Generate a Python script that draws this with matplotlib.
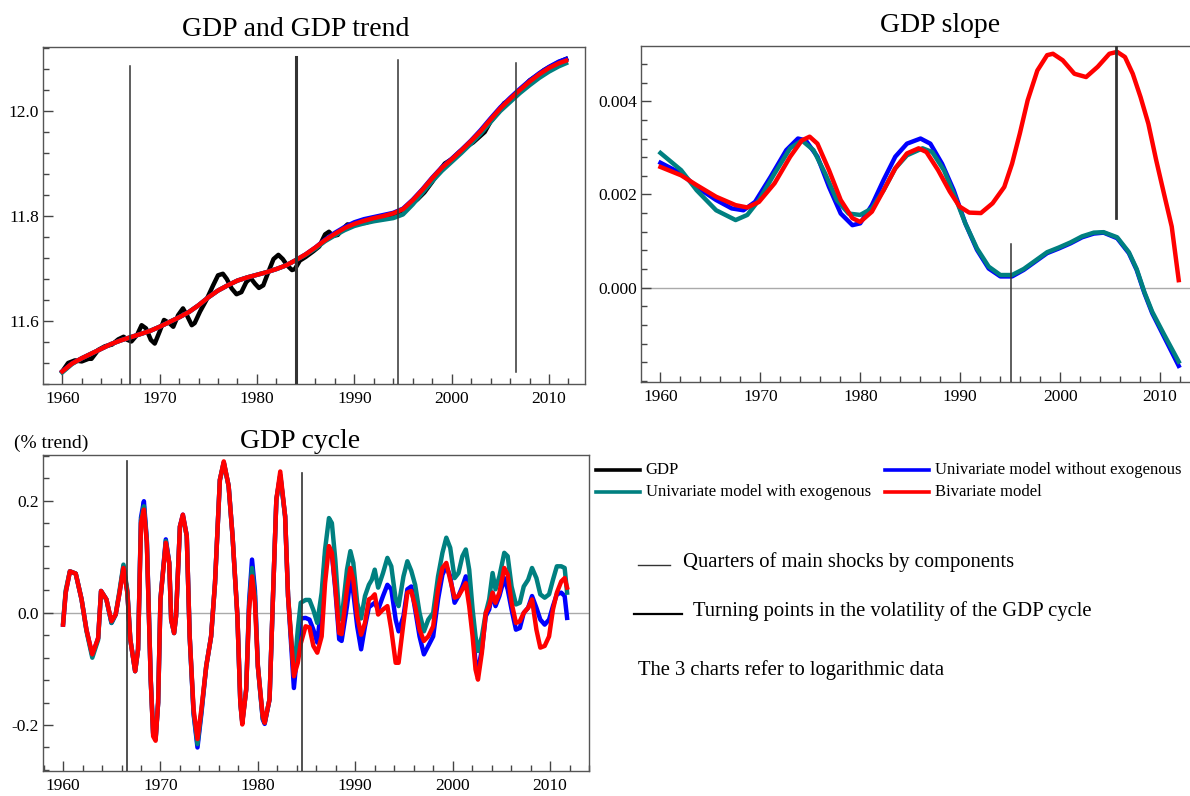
import matplotlib
matplotlib.use('Agg')
import matplotlib.pyplot as plt
from matplotlib.lines import Line2D
from matplotlib.ticker import MultipleLocator, FixedLocator, FormatStrFormatter

plt.rcParams['font.family'] = ['Liberation Serif', 'DejaVu Serif']
plt.rcParams['axes.unicode_minus'] = False

# ---------------- data ----------------
# GDP and GDP trend (log level)
trend_years = [1960, 1961, 1962, 1963, 1964, 1965, 1966, 1967, 1968, 1969,
               1970, 1971, 1972, 1973, 1974, 1975, 1976, 1977, 1978, 1979,
               1980, 1981, 1982, 1983, 1984, 1985, 1986, 1987, 1988, 1989,
               1990, 1991, 1992, 1993, 1994, 1995, 1996, 1997, 1998, 1999,
               2000, 2001, 2002, 2003, 2004, 2005, 2006, 2007, 2008, 2009,
               2010, 2011, 2011.75]
trend_biv = [11.504, 11.519, 11.529, 11.538, 11.547, 11.556, 11.563, 11.569, 11.575, 11.581,
             11.589, 11.598, 11.607, 11.617, 11.630, 11.645, 11.658, 11.668, 11.677, 11.683,
             11.688, 11.693, 11.699, 11.706, 11.716, 11.727, 11.740, 11.754, 11.766, 11.777,
             11.785, 11.791, 11.796, 11.800, 11.805, 11.813, 11.830, 11.850, 11.872, 11.892,
             11.908, 11.925, 11.943, 11.962, 11.984, 12.005, 12.023, 12.040, 12.056, 12.070,
             12.082, 12.091, 12.096]
trend_uni = [11.504, 11.519, 11.529, 11.538, 11.547, 11.556, 11.563, 11.569, 11.575, 11.581,
             11.589, 11.598, 11.607, 11.617, 11.630, 11.645, 11.658, 11.668, 11.677, 11.683,
             11.688, 11.693, 11.699, 11.706, 11.716, 11.727, 11.740, 11.755, 11.768, 11.779,
             11.788, 11.794, 11.798, 11.802, 11.806, 11.814, 11.831, 11.851, 11.873, 11.893,
             11.909, 11.926, 11.944, 11.964, 11.986, 12.007, 12.025, 12.042, 12.058, 12.072,
             12.084, 12.094, 12.099]
trend_uni_exo = [11.502, 11.518, 11.529, 11.538, 11.547, 11.556, 11.563, 11.569, 11.575, 11.581,
                 11.589, 11.598, 11.607, 11.617, 11.630, 11.645, 11.658, 11.668, 11.677, 11.683,
                 11.688, 11.693, 11.699, 11.706, 11.716, 11.726, 11.738, 11.752, 11.763, 11.773,
                 11.781, 11.786, 11.790, 11.793, 11.796, 11.803, 11.822, 11.844, 11.866, 11.886,
                 11.903, 11.920, 11.938, 11.957, 11.979, 12.000, 12.017, 12.034, 12.049, 12.063,
                 12.075, 12.085, 12.091]

gdp_years = [1960.0, 1960.6, 1961.3, 1962.0, 1962.7, 1963.0, 1963.7, 1964.4, 1965.1, 1965.75,
             1966.3, 1966.7, 1967.1, 1967.7, 1968.15, 1968.6, 1969.1, 1969.5, 1970.0, 1970.45,
             1971.0, 1971.4, 1971.9, 1972.4, 1972.8, 1973.3, 1973.6, 1974.15, 1974.8, 1975.5,
             1976.0, 1976.5, 1976.9, 1977.4, 1977.9, 1978.4, 1978.9, 1979.35, 1979.8, 1980.2,
             1980.65, 1981.1, 1981.7, 1982.2, 1982.65, 1983.1, 1983.6, 1983.9, 1984.4, 1985.0,
             1985.8, 1986.4, 1987.0, 1987.4, 1987.8, 1988.3, 1988.8, 1989.3, 1989.8, 1990.5,
             1991.2, 1991.8, 1992.3, 1993.0, 1993.5, 1994.3, 1995.0, 1995.8, 1996.5, 1997.2,
             1998.0, 1998.7, 1999.3, 2000.0, 2000.8, 2001.5, 2002.2, 2002.8, 2003.4, 2004.0,
             2004.8, 2005.4, 2006.0, 2006.6, 2007.4, 2008.0, 2008.8, 2009.5, 2010.2, 2011.0,
             2011.75]
gdp = [11.504, 11.520, 11.525, 11.523, 11.528, 11.528, 11.545, 11.552, 11.555, 11.565,
       11.570, 11.564, 11.561, 11.574, 11.592, 11.586, 11.564, 11.557, 11.580, 11.602,
       11.596, 11.589, 11.611, 11.624, 11.611, 11.592, 11.596, 11.618, 11.640, 11.668,
       11.687, 11.690, 11.680, 11.662, 11.651, 11.655, 11.674, 11.682, 11.671, 11.663,
       11.668, 11.690, 11.718, 11.726, 11.718, 11.706, 11.697, 11.699, 11.715, 11.722,
       11.733, 11.742, 11.765, 11.770, 11.762, 11.764, 11.775, 11.784, 11.782, 11.786,
       11.787, 11.792, 11.797, 11.796, 11.802, 11.803, 11.808, 11.822, 11.832, 11.845,
       11.865, 11.885, 11.900, 11.908, 11.922, 11.932, 11.940, 11.950, 11.960, 11.980,
       11.998, 12.015, 12.020, 12.031, 12.045, 12.058, 12.068, 12.078, 12.085, 12.093,
       12.099]

# GDP slope
slope_biv_years = [1960.0, 1962.07, 1963.62, 1965.57, 1967.52, 1968.69, 1969.86, 1971.42, 1972.98, 1974.15,
                   1974.93, 1975.71, 1976.87, 1978.04, 1979.21, 1979.99, 1981.16, 1982.33, 1983.5, 1984.67,
                   1985.84, 1986.62, 1987.79, 1988.96, 1989.93, 1990.9, 1992.07, 1993.24, 1994.41, 1995.19,
                   1995.97, 1996.75, 1997.72, 1998.7, 1999.28, 2000.26, 2001.43, 2002.6, 2003.76, 2004.93,
                   2005.71, 2006.49, 2007.27, 2008.05, 2008.83, 2009.61, 2010.39, 2011.17, 2011.87]
slope_biv = [0.00259, 0.00241, 0.00220, 0.00195, 0.00177, 0.00172, 0.00184, 0.00224, 0.00281, 0.00316,
             0.00324, 0.00309, 0.00252, 0.00188, 0.00149, 0.00141, 0.00163, 0.00209, 0.00256, 0.00288,
             0.00299, 0.00291, 0.00252, 0.00206, 0.00174, 0.00161, 0.00160, 0.00181, 0.00216, 0.00266,
             0.00331, 0.00402, 0.00466, 0.00499, 0.00502, 0.00488, 0.00459, 0.00452, 0.00474, 0.00502,
             0.00506, 0.00495, 0.00459, 0.00409, 0.00352, 0.00274, 0.00202, 0.00131, 0.00016]

slope_uni_years = [1960.0, 1962.07, 1963.62, 1965.57, 1967.13, 1968.3, 1969.47, 1971.03, 1972.59, 1973.76,
                   1974.54, 1975.71, 1976.87, 1978.04, 1979.21, 1979.99, 1981.16, 1982.33, 1983.5, 1984.67,
                   1986.03, 1987.01, 1988.18, 1989.35, 1990.51, 1991.68, 1992.85, 1994.02, 1995.19, 1996.36,
                   1997.53, 1998.7, 1999.87, 2001.04, 2002.2, 2003.37, 2004.35, 2005.71, 2006.88, 2007.66,
                   2008.44, 2009.22, 2010.39, 2011.87]
slope_uni = [0.00268, 0.00245, 0.00216, 0.00188, 0.00170, 0.00166, 0.00184, 0.00238, 0.00295, 0.00320,
             0.00316, 0.00281, 0.00216, 0.00159, 0.00134, 0.00138, 0.00177, 0.00231, 0.00281, 0.00309,
             0.00320, 0.00309, 0.00266, 0.00209, 0.00138, 0.00081, 0.00041, 0.00024, 0.00024, 0.00038,
             0.00056, 0.00074, 0.00084, 0.00095, 0.00108, 0.00116, 0.00118, 0.00106, 0.00074, 0.00038,
             -0.00012, -0.00055, -0.00105, -0.00168]

slope_exo_years = [1960.0, 1962.07, 1963.62, 1965.57, 1967.52, 1968.69, 1969.86, 1971.42, 1972.98, 1974.15,
                   1975.32, 1976.48, 1977.65, 1978.82, 1979.99, 1981.16, 1982.33, 1983.5, 1984.67, 1986.23,
                   1987.2, 1988.37, 1989.35, 1990.51, 1991.68, 1992.85, 1994.02, 1995.19, 1996.36, 1997.53,
                   1998.7, 1999.87, 2001.04, 2002.2, 2003.37, 2004.35, 2005.71, 2006.88, 2007.66, 2008.44,
                   2009.22, 2010.39, 2011.87]
slope_exo = [0.00289, 0.00252, 0.00209, 0.00166, 0.00145, 0.00156, 0.00188, 0.00245, 0.00299, 0.00316,
             0.00295, 0.00245, 0.00188, 0.00159, 0.00156, 0.00170, 0.00209, 0.00256, 0.00284, 0.00299,
             0.00291, 0.00252, 0.00202, 0.00138, 0.00084, 0.00045, 0.00027, 0.00027, 0.00040, 0.00058,
             0.00076, 0.00086, 0.00097, 0.00110, 0.00118, 0.00119, 0.00108, 0.00076, 0.00040, -0.00010,
             -0.00052, -0.00100, -0.00159]

# GDP cycle (% trend)
cycle_years = [1960.0, 1960.27, 1960.7, 1961.3, 1961.9, 1962.4, 1963.0, 1963.6, 1963.9, 1964.45,
               1964.97, 1965.4, 1965.8, 1966.2, 1966.6, 1966.9, 1967.4, 1967.7, 1968.0, 1968.3,
               1968.6, 1969.0, 1969.25, 1969.5, 1969.76, 1970.0, 1970.55, 1970.9, 1971.1, 1971.4,
               1971.6, 1972.0, 1972.3, 1972.7, 1973.0, 1973.4, 1973.8, 1974.2, 1974.7, 1975.2,
               1975.6, 1976.1, 1976.5, 1977.0, 1977.4, 1977.9, 1978.2, 1978.4, 1978.8, 1979.1,
               1979.4, 1979.7, 1980.0, 1980.5, 1980.7, 1981.2, 1981.6, 1981.9, 1982.3, 1982.8,
               1983.1, 1983.7, 1984.1, 1984.4, 1984.9, 1985.3, 1985.7, 1986.1, 1986.55, 1986.9,
               1987.3, 1987.6, 1987.95, 1988.35, 1988.6, 1989.15, 1989.5, 1989.8, 1990.2, 1990.6,
               1991.0, 1991.4, 1991.7, 1992.0, 1992.35, 1992.85, 1993.3, 1993.7, 1994.15, 1994.45,
               1994.95, 1995.35, 1995.75, 1996.15, 1996.6, 1997.05, 1997.5, 1998.0, 1998.5, 1998.95,
               1999.35, 1999.75, 2000.2, 2000.6, 2001.0, 2001.35, 2001.7, 2002.05, 2002.35, 2002.6,
               2003.0, 2003.4, 2003.75, 2004.1, 2004.4, 2004.8, 2005.3, 2005.65, 2006.05, 2006.5,
               2006.9, 2007.3, 2007.75, 2008.15, 2008.6, 2009.0, 2009.45, 2009.9, 2010.3, 2010.7,
               2011.15, 2011.5, 2011.75]
cycle_biv = [-0.021, 0.036, 0.074, 0.070, 0.024, -0.030, -0.074, -0.045, 0.039, 0.024,
             -0.015, -0.003, 0.036, 0.080, 0.036, -0.047, -0.104, -0.065, 0.160, 0.184,
             0.125, -0.119, -0.220, -0.228, -0.160, 0.024, 0.125, 0.089, -0.012, -0.036,
             -0.006, 0.154, 0.175, 0.137, -0.042, -0.172, -0.225, -0.172, -0.095, -0.042,
             0.053, 0.237, 0.270, 0.226, 0.137, -0.006, -0.160, -0.199, -0.137, 0.006,
             0.065, 0.018, -0.095, -0.184, -0.196, -0.154, 0.053, 0.202, 0.252, 0.172,
             0.030, -0.113, -0.089, -0.055, -0.024, -0.026, -0.059, -0.071, -0.042, 0.053,
             0.119, 0.107, 0.047, -0.036, -0.038, 0.042, 0.080, 0.059, -0.006, -0.039,
             -0.018, 0.024, 0.027, 0.033, -0.003, 0.006, 0.012, -0.030, -0.089, -0.089,
             -0.018, 0.036, 0.039, 0.012, -0.030, -0.050, -0.042, -0.024, 0.042, 0.080,
             0.089, 0.059, 0.027, 0.030, 0.042, 0.053, 0.012, -0.042, -0.101, -0.119,
             -0.071, 0.000, 0.012, 0.036, 0.018, 0.036, 0.080, 0.068, 0.018, -0.018,
             -0.015, 0.000, 0.009, 0.024, -0.030, -0.062, -0.059, -0.042, 0.006, 0.036,
             0.056, 0.062, 0.045]
cycle_uni = [-0.021, 0.036, 0.074, 0.070, 0.024, -0.030, -0.076, -0.045, 0.039, 0.024,
             -0.018, -0.003, 0.036, 0.083, 0.036, -0.047, -0.104, -0.065, 0.170, 0.199,
             0.130, -0.119, -0.215, -0.225, -0.160, 0.024, 0.131, 0.089, -0.012, -0.036,
             -0.006, 0.154, 0.175, 0.137, -0.042, -0.180, -0.240, -0.180, -0.095, -0.042,
             0.053, 0.237, 0.268, 0.226, 0.137, -0.006, -0.160, -0.195, -0.137, 0.020,
             0.095, 0.040, -0.095, -0.190, -0.198, -0.154, 0.053, 0.202, 0.245, 0.172,
             0.030, -0.134, -0.060, -0.010, -0.009, -0.012, -0.030, -0.053, 0.018, 0.101,
             0.113, 0.105, 0.042, -0.047, -0.050, 0.012, 0.059, 0.036, -0.024, -0.065,
             -0.024, 0.010, 0.014, 0.018, 0.006, 0.030, 0.050, 0.042, -0.012, -0.033,
             -0.006, 0.042, 0.047, 0.006, -0.042, -0.074, -0.059, -0.042, 0.024, 0.068,
             0.083, 0.065, 0.018, 0.030, 0.047, 0.065, 0.030, -0.024, -0.089, -0.104,
             -0.065, -0.006, 0.006, 0.036, 0.012, 0.030, 0.062, 0.042, 0.006, -0.030,
             -0.027, 0.000, 0.009, 0.030, 0.009, -0.012, -0.021, -0.012, 0.012, 0.033,
             0.036, 0.030, -0.009]
cycle_exo = [-0.018, 0.040, 0.074, 0.070, 0.024, -0.032, -0.080, -0.048, 0.039, 0.024,
             -0.018, -0.003, 0.040, 0.086, 0.040, -0.047, -0.104, -0.065, 0.165, 0.190,
             0.128, -0.119, -0.215, -0.225, -0.160, 0.024, 0.128, 0.089, -0.012, -0.036,
             -0.006, 0.154, 0.172, 0.137, -0.042, -0.178, -0.234, -0.176, -0.095, -0.042,
             0.053, 0.237, 0.268, 0.226, 0.137, -0.006, -0.160, -0.195, -0.137, 0.012,
             0.080, 0.030, -0.095, -0.188, -0.196, -0.154, 0.053, 0.202, 0.245, 0.172,
             0.030, -0.110, -0.030, 0.018, 0.023, 0.023, 0.005, -0.018, 0.036, 0.113,
             0.169, 0.160, 0.095, -0.006, -0.012, 0.077, 0.110, 0.089, 0.018, -0.010,
             0.030, 0.050, 0.059, 0.077, 0.045, 0.071, 0.098, 0.083, 0.024, 0.012,
             0.065, 0.092, 0.075, 0.050, 0.000, -0.033, -0.012, 0.000, 0.065, 0.107,
             0.134, 0.116, 0.062, 0.071, 0.101, 0.113, 0.077, 0.006, -0.042, -0.068,
             -0.042, 0.000, 0.024, 0.071, 0.042, 0.065, 0.107, 0.101, 0.047, 0.015,
             0.018, 0.047, 0.059, 0.080, 0.062, 0.033, 0.027, 0.033, 0.059, 0.083,
             0.083, 0.080, 0.036]

# labelled ticks
trend_ticks = [11.6, 11.8, 12.0]
slope_ticks = [0.000, 0.002, 0.004]
cycle_ticks = [-0.2, 0.0, 0.2]

# vertical markers: (year, y from, y to, line width)
trend_marks = [(1967.0, 11.48, 12.086, 1.1), (1984.0, 11.48, 12.103, 2.2),
               (1994.5, 11.48, 12.097, 1.1), (2006.6, 11.503, 12.091, 1.1)]
slope_marks = [(1995.07, -0.00202, 0.00094, 1.1), (2005.6, 0.0015, 0.00518, 2.0)]
cycle_marks = [(1966.6, -0.2814, 0.271, 1.2), (1984.5, -0.2814, 0.25, 1.2)]

# ---------------- drawing ----------------
W, H = 1190, 796
C_GDP, C_UNI, C_EXO, C_BIV = 'black', '#0000ff', '#008080', '#ff0000'
LW = 3.2


def px_box(left, top, right, bottom):
    return [left / W, 1 - bottom / H, (right - left) / W, (bottom - top) / H]


def style(ax, xlim, ylim, yticks, ymin, yfmt):
    ax.set_xlim(*xlim)
    ax.set_ylim(*ylim)
    ax.xaxis.set_major_locator(MultipleLocator(10))
    ax.xaxis.set_minor_locator(MultipleLocator(2))
    ax.yaxis.set_major_locator(FixedLocator(yticks))
    ax.yaxis.set_minor_locator(MultipleLocator(ymin))
    ax.yaxis.set_major_formatter(FormatStrFormatter(yfmt))
    ax.tick_params(which='both', direction='in', top=False, right=False,
                   color='#444', labelsize=12.5, width=1)
    ax.tick_params(which='major', length=7)
    ax.tick_params(which='minor', length=4)
    ax.tick_params(axis='x', pad=5)
    ax.tick_params(axis='y', pad=3)
    for s in ax.spines.values():
        s.set_color('#555')
        s.set_linewidth(1.0)


fig = plt.figure(figsize=(W / 100, H / 100), dpi=100)

# GDP and GDP trend
ax1 = fig.add_axes(px_box(43.3, 46.7, 585, 384))
ax1.plot(gdp_years, gdp, color=C_GDP, lw=LW, zorder=2)
ax1.plot(trend_years, trend_uni, color=C_UNI, lw=LW, zorder=3)
ax1.plot(trend_years, trend_uni_exo, color=C_EXO, lw=LW, zorder=4)
ax1.plot(trend_years, trend_biv, color=C_BIV, lw=LW, zorder=5)
for x, y0, y1, lw in trend_marks:
    ax1.plot([x, x], [y0, y1], color='#333', lw=lw, zorder=6)
style(ax1, (1958.05, 2013.7), (11.48, 12.1225), trend_ticks, 0.04, '%.1f')

# GDP slope
ax2 = fig.add_axes(px_box(641, 46.3, 1197, 381.7))
ax2.axhline(0, color='#aaaaaa', lw=1, zorder=1)
ax2.plot(slope_uni_years, slope_uni, color=C_UNI, lw=LW, zorder=3)
ax2.plot(slope_exo_years, slope_exo, color=C_EXO, lw=LW, zorder=4)
ax2.plot(slope_biv_years, slope_biv, color=C_BIV, lw=LW, zorder=5)
for x, y0, y1, lw in slope_marks:
    ax2.plot([x, x], [y0, y1], color='#333', lw=lw, zorder=6)
style(ax2, (1958.05, 2013.7), (-0.00202, 0.00518), slope_ticks, 0.0004, '%.3f')

# GDP cycle
ax3 = fig.add_axes(px_box(43.2, 455, 589, 770.7))
ax3.axhline(0, color='#aaaaaa', lw=1, zorder=1)
ax3.plot(cycle_years, cycle_uni, color=C_UNI, lw=LW, zorder=3)
ax3.plot(cycle_years, cycle_exo, color=C_EXO, lw=LW, zorder=4)
ax3.plot(cycle_years, cycle_biv, color=C_BIV, lw=LW, zorder=5)
for x, y0, y1, lw in cycle_marks:
    ax3.plot([x, x], [y0, y1], color='#333', lw=lw, zorder=6)
style(ax3, (1957.96, 2014.0), (-0.2814, 0.2814), cycle_ticks, 0.04, '%.1f')

# titles
fig.text(296 / W, 1 - 30 / H, 'GDP and GDP trend', ha='center', va='center', fontsize=20)
fig.text(940 / W, 1 - 25 / H, 'GDP slope', ha='center', va='center', fontsize=20)
fig.text(300 / W, 1 - 441 / H, 'GDP cycle', ha='center', va='center', fontsize=20)
fig.text(14 / W, 1 - 443 / H, '(% trend)', ha='left', va='center', fontsize=14)


# legend drawn in figure pixels
def fig_line(x0, x1, y, color, lw):
    fig.add_artist(Line2D([x0 / W, x1 / W], [1 - y / H, 1 - y / H], color=color,
                          lw=lw, transform=fig.transFigure))


def fig_label(x, y, s, size):
    fig.text(x / W, 1 - y / H, s, ha='left', va='center', fontsize=size)


legend_rows = [(595.6, 470, C_GDP, 'GDP'),
               (595.6, 492, C_EXO, 'Univariate model with exogenous'),
               (884.7, 470, C_UNI, 'Univariate model without exogenous'),
               (884.7, 492, C_BIV, 'Bivariate model')]
for x0, y, c, s in legend_rows:
    fig_line(x0, x0 + 44, y, c, 2.6)
    fig_label(x0 + 50, y, s, 12)

fig_line(637.6, 670, 565, '#333', 1.0)
fig_label(683, 562, 'Quarters of main shocks by components', 14.9)
fig_line(633.7, 682, 614, 'black', 1.6)
fig_label(692.8, 611, 'Turning points in the volatility of the GDP cycle', 14.9)
fig_label(638.4, 670, 'The 3 charts refer to logarithmic data', 14.9)

fig.savefig('out.png', dpi=100)
